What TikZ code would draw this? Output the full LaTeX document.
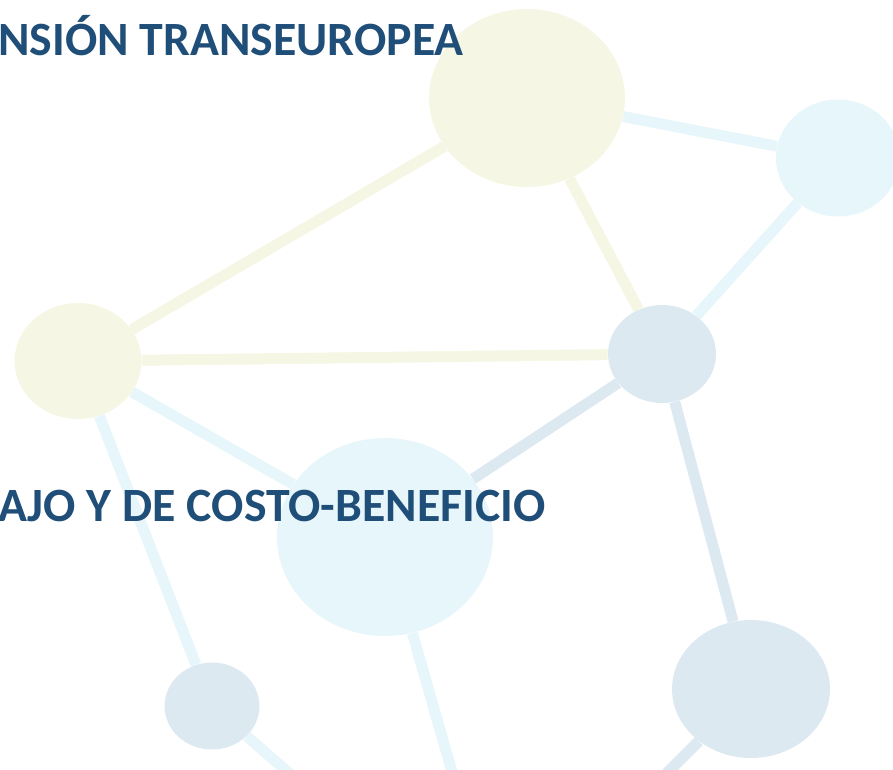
\documentclass[tikz,border=0pt]{standalone}
\usepackage{fontspec}
\setmainfont{Carlito}
\usetikzlibrary{shapes.geometric}

\definecolor{ylw}{HTML}{F5F6E3}
\definecolor{cyn}{HTML}{E7F6FA}
\definecolor{blg}{HTML}{DDE9F0}
\definecolor{titleblue}{HTML}{1F4E79}

\begin{document}
\begin{tikzpicture}[x=0.02cm,y=-0.02cm,
	dot/.style={ellipse,inner sep=0pt,draw=none},
	link/.style={line width=0.22cm}]
	\useasboundingbox (0,0) rectangle (893,769);
	\clip (0,0) rectangle (893,769);
	
	% knoten
	\node[dot,fill=ylw,minimum width=3.92cm,minimum height=3.56cm] (top) at (527,98) {};
	\node[dot,fill=cyn,minimum width=2.48cm,minimum height=2.34cm] (right) at (838,158) {};
	\node[dot,fill=ylw,minimum width=2.54cm,minimum height=2.32cm] (left) at (78,361) {};
	\node[dot,fill=blg,minimum width=2.16cm,minimum height=1.96cm] (mid) at (662,354) {};
	\node[dot,fill=cyn,minimum width=4.32cm,minimum height=3.96cm] (big) at (385,537) {};
	\node[dot,fill=blg,minimum width=1.90cm,minimum height=1.74cm] (small) at (212,706) {};
	\node[dot,fill=blg,minimum width=3.16cm,minimum height=2.76cm] (low) at (751,689) {};
	
	% freie enden
	\coordinate (outa) at (460,800);
	\coordinate (outb) at (320,800);
	\coordinate (outc) at (640,800);
	
	% verbindungen
	\draw[link,ylw] (top) -- (left);
	\draw[link,ylw] (top) -- (mid);
	\draw[link,ylw] (left) -- (mid);
	\draw[link,cyn] (top) -- (right);
	\draw[link,cyn] (right) -- (mid);
	\draw[link,cyn] (left) -- (big);
	\draw[link,cyn] (left) -- (small);
	\draw[link,blg] (mid) -- (big);
	\draw[link,blg] (mid) -- (low);
	\draw[link,cyn] (big) -- (outa);
	\draw[link,cyn] (small) -- (outb);
	\draw[link,blg] (low) -- (outc);
	
	% titel
	\node[anchor=base west,inner sep=0pt,text=titleblue,font=\fontsize{27.2}{32}\selectfont\bfseries] (titlea) at (-2,55) {NSIÓN TRANSEUROPEA};
	\node[anchor=base west,inner sep=0pt,text=titleblue,font=\fontsize{27.2}{32}\selectfont\bfseries] (titleb) at (-2,521) {AJO Y DE COSTO-BENEFICIO};
\end{tikzpicture}
\end{document}
